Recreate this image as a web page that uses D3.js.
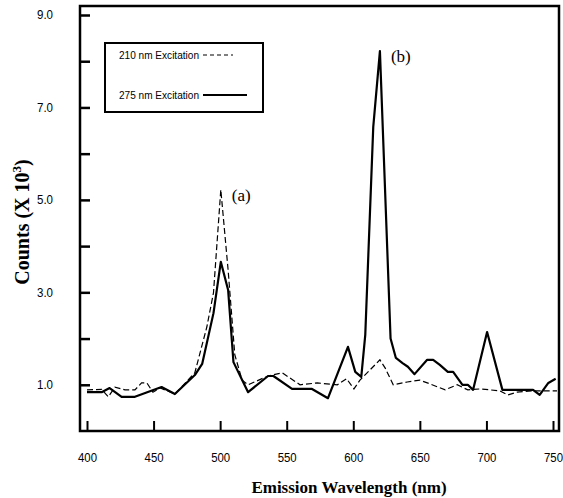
<!DOCTYPE html>
<html>
<head>
<meta charset="utf-8">
<script src="https://cdn.jsdelivr.net/npm/d3@7"></script>
<style>
  html, body { margin: 0; padding: 0; background: #fff; }
  svg { display: block; }
  .tick text { font-family: "Liberation Sans", Arial, sans-serif; font-size: 12px; fill: #000; }
</style>
</head>
<body>
<svg id="chart" width="563" height="498"></svg>
<script>
// Emission spectra: wavelength (nm) and counts (x 10^3)
const wl210 = [400, 411, 416, 421, 428.5, 436, 441, 445, 449.5, 455, 466, 481, 490, 495, 500.5, 506, 511, 516.5, 521, 536, 546.5, 560, 573, 588, 595, 600.5, 605, 620, 624, 630, 640.5, 650, 657.5, 669, 678, 686, 695, 710, 716, 723, 735, 753];
const counts210 = [0.89, 0.90, 0.74, 0.95, 0.89, 0.89, 1.04, 1.04, 0.84, 0.93, 0.80, 1.26, 2.25, 2.99, 5.22, 3.48, 1.65, 1.10, 1.00, 1.19, 1.26, 1.00, 1.04, 1.00, 1.13, 0.91, 1.10, 1.54, 1.36, 1.00, 1.06, 1.10, 1.02, 0.89, 1.00, 0.89, 0.91, 0.87, 0.78, 0.84, 0.87, 0.87];

const wl275 = [400, 411, 417, 426, 436, 456, 466, 481, 486.5, 495, 500.5, 506, 510, 521, 536, 540, 554, 569, 581, 596, 601.5, 606, 609, 615, 620, 628, 632, 637, 641, 646, 655.5, 660, 665, 671, 675, 682, 686, 690, 700.5, 712, 735, 740, 746.5, 752];
const counts275 = [0.84, 0.84, 0.93, 0.74, 0.74, 0.95, 0.80, 1.21, 1.45, 2.55, 3.66, 3.05, 1.49, 0.84, 1.19, 1.19, 0.91, 0.91, 0.71, 1.82, 1.28, 1.17, 2.08, 6.58, 8.22, 2.0, 1.58, 1.47, 1.39, 1.23, 1.54, 1.54, 1.43, 1.28, 1.28, 1.0, 1.0, 0.89, 2.14, 0.89, 0.89, 0.78, 1.04, 1.13];

const xTicks = [400, 450, 500, 550, 600, 650, 700, 750];
const yMajor = [1, 3, 5, 7, 9];
const yMinor = [2, 4, 6, 8];
const legendLabels = ["210 nm Excitation", "275 nm Excitation"];
const peakLabels = [{text: "(a)", wl: 500.5, c: 5.22}, {text: "(b)", wl: 620, c: 8.22}];

const svg = d3.select("#chart");
const frame = {left: 80, right: 559, top: 6, bottom: 431};

const x = d3.scaleLinear().domain([400, 750]).range([87, 553]);
const y = d3.scaleLinear().domain([0, 9]).range([431, 15]);

// Axes with ticks pointing into the plot
const xAxis = d3.axisBottom(x).tickValues(xTicks).tickSize(-10).tickPadding(22).tickFormat(d3.format("d"));
svg.append("g").attr("transform", `translate(0,${frame.bottom})`).call(xAxis)
  .call(g => g.select(".domain").remove())
  .call(g => g.selectAll(".tick line").attr("stroke", "#000").attr("stroke-width", 2))
  .call(g => g.selectAll(".tick text").attr("textLength", 19).attr("lengthAdjust", "spacingAndGlyphs"));

const yAxis = d3.axisLeft(y).tickValues(yMajor).tickSize(-10).tickPadding(27).tickFormat(d3.format(".1f"));
svg.append("g").attr("transform", `translate(${frame.left},0)`).call(yAxis)
  .call(g => g.select(".domain").remove())
  .call(g => g.selectAll(".tick line").attr("stroke", "#000").attr("stroke-width", 2.5))
  .call(g => g.selectAll(".tick text").attr("textLength", 16).attr("lengthAdjust", "spacingAndGlyphs"));

const yAxisMinor = d3.axisLeft(y).tickValues(yMinor).tickSize(-10).tickFormat("");
svg.append("g").attr("transform", `translate(${frame.left},0)`).call(yAxisMinor)
  .call(g => g.select(".domain").remove())
  .call(g => g.selectAll(".tick line").attr("stroke", "#000").attr("stroke-width", 2.5));

// Plot frame
svg.append("rect")
  .attr("x", frame.left).attr("y", frame.top)
  .attr("width", frame.right - frame.left).attr("height", frame.bottom - frame.top)
  .attr("fill", "none").attr("stroke", "#000").attr("stroke-width", 2.5);

const line = d3.line().x(d => x(d[0])).y(d => y(d[1]));

// 210 nm excitation (dashed)
svg.append("path")
  .datum(d3.zip(wl210, counts210))
  .attr("d", line)
  .attr("fill", "none").attr("stroke", "#000")
  .attr("stroke-width", 1.2).attr("stroke-dasharray", "6,3");

// 275 nm excitation (solid)
svg.append("path")
  .datum(d3.zip(wl275, counts275))
  .attr("d", line)
  .attr("fill", "none").attr("stroke", "#000")
  .attr("stroke-width", 2.2).attr("stroke-linejoin", "round");

// Peak labels
svg.selectAll("text.peak").data(peakLabels).enter().append("text")
  .attr("class", "peak")
  .attr("x", d => x(d.wl) + 11)
  .attr("y", d => y(d.c) + 11)
  .attr("font-family", "Liberation Serif, Times New Roman, serif")
  .attr("font-size", 17)
  .text(d => d.text);

// Legend
const legend = svg.append("g");
legend.append("rect").attr("x", 105).attr("y", 43).attr("width", 158).attr("height", 69)
  .attr("fill", "#fff").attr("stroke", "#000").attr("stroke-width", 2);
legend.selectAll("text").data(legendLabels).enter().append("text")
  .attr("x", 119).attr("y", (d, i) => 59 + i * 40)
  .attr("font-family", "Liberation Sans, Arial, sans-serif")
  .attr("font-size", 11.5)
  .attr("textLength", 80).attr("lengthAdjust", "spacingAndGlyphs")
  .text(d => d);
legend.append("line").attr("x1", 203).attr("x2", 233).attr("y1", 55).attr("y2", 55)
  .attr("stroke", "#000").attr("stroke-width", 1.2).attr("stroke-dasharray", "4,3");
legend.append("line").attr("x1", 203).attr("x2", 247).attr("y1", 95).attr("y2", 95)
  .attr("stroke", "#000").attr("stroke-width", 2.2);

// Axis titles
svg.append("text")
  .attr("x", 349).attr("y", 493)
  .attr("text-anchor", "middle")
  .attr("font-family", "Liberation Serif, Times New Roman, serif")
  .attr("font-weight", "bold").attr("font-size", 17)
  .text("Emission Wavelength (nm)");

const yTitle = svg.append("text")
  .attr("transform", "translate(29,222) rotate(-90)")
  .attr("text-anchor", "middle")
  .attr("font-family", "Liberation Serif, Times New Roman, serif")
  .attr("font-weight", "bold").attr("font-size", 20);
yTitle.append("tspan").text("Counts (X 10");
yTitle.append("tspan").attr("dy", -8).attr("font-size", 13).text("3");
yTitle.append("tspan").attr("dy", 8).text(")");
</script>
</body>
</html>
